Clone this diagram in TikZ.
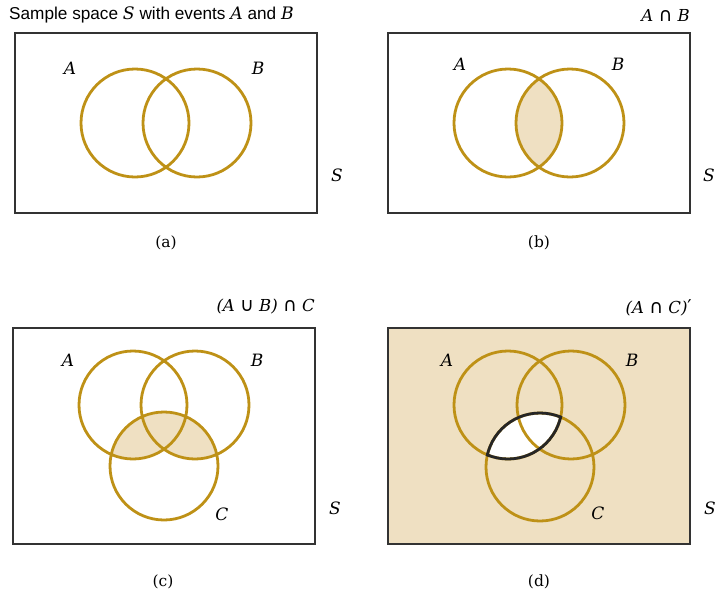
\documentclass[tikz,border=0pt]{standalone}
\usepackage{fontspec}
\setsansfont{Liberation Sans}
\newfontfamily\lblfont{DejaVu Serif}
\newfontfamily\symfont{DejaVu Sans}[Scale=1.15]
\usepackage{tikz}
\usetikzlibrary{positioning}
\definecolor{venngold}{RGB}{190,145,22}
\definecolor{venntan}{RGB}{239,224,194}
\newcommand{\setvar}[1]{{\lblfont\itshape #1}}

\begin{document}
\begin{tikzpicture}[x=1pt, y=-1pt,
  frame/.style={draw=black!80, line width=1.2pt},
  setline/.style={draw=venngold, line width=2.8pt},
  edgeline/.style={draw=black!85, line width=2.8pt},
  setlabel/.style={font=\lblfont\itshape\fontsize{17}{20}\selectfont, inner sep=0pt},
  caption/.style={font=\lblfont\fontsize{15.5}{18}\selectfont, inner sep=0pt},
  title/.style={font=\lblfont\itshape\fontsize{16.5}{19}\selectfont, inner sep=0pt, anchor=east},
]
\useasboundingbox (0,0) rectangle (716,595);

% centres of the circles
\coordinate (aA) at (135,123);
\coordinate (aB) at (197,123);
\coordinate (bA) at (508,123);
\coordinate (bB) at (570,123);
\coordinate (cA) at (133,405);
\coordinate (cB) at (195,405);
\coordinate (cC) at (164,466);
\coordinate (dA) at (508,405);
\coordinate (dB) at (571,405);
\coordinate (dC) at (540,467);

% (a) sample space
\draw[frame] (15,33) rectangle (317,213);
\draw[setline] (aA) circle[radius=54pt] (aB) circle[radius=54pt];
\node[anchor=west, font=\sffamily\fontsize{17.2}{20}\selectfont, inner sep=0pt] (ttla) at (9,15)
  {Sample space \setvar{S} with events \setvar{A} and \setvar{B}};
\node[setlabel] (laA) at (70,68) {A};
\node[setlabel] (laB) at (258,68) {B};
\node[setlabel] (laS) at (337,175) {S};
\node[caption] (capa) at (166,243) {(a)};

% (b) A cap B
\draw[frame] (388,33) rectangle (690,213);
\begin{scope}
  \clip (bA) circle[radius=54pt];
  \fill[venntan] (bB) circle[radius=54pt];
\end{scope}
\draw[setline] (bA) circle[radius=54pt] (bB) circle[radius=54pt];
\node[title] (ttlb) at (690,15) {A {\symfont\upshape ∩} B};
\node[setlabel] (lbA) at (460,64) {A};
\node[setlabel] (lbB) at (618,64) {B};
\node[setlabel] (lbS) at (709,175) {S};
\node[caption] (capb) at (539,243) {(b)};

% (c) (A cup B) cap C
\draw[frame] (13,328) rectangle (315,544);
\begin{scope}
  \clip (cC) circle[radius=54pt];
  \fill[venntan] (cA) circle[radius=54pt] (cB) circle[radius=54pt];
\end{scope}
\draw[setline] (cA) circle[radius=54pt] (cB) circle[radius=54pt] (cC) circle[radius=54pt];
\node[title] (ttlc) at (315,307) {(A {\symfont\upshape ∪} B) {\symfont\upshape ∩} C};
\node[setlabel] (lcA) at (68,360) {A};
\node[setlabel] (lcB) at (257,360) {B};
\node[setlabel] (lcC) at (222,514) {C};
\node[setlabel] (lcS) at (335,508) {S};
\node[caption] (capc) at (163,582) {(c)};

% (d) complement of A cap C
\fill[venntan] (388,328) rectangle (690,544);
\draw[frame] (388,328) rectangle (690,544);
\begin{scope}
  \clip (dA) circle[radius=54pt];
  \fill[white] (dC) circle[radius=54pt];
\end{scope}
\draw[setline] (dA) circle[radius=54pt] (dB) circle[radius=54pt] (dC) circle[radius=54pt];
\begin{scope}
  \clip (dA) circle[radius=55.4pt];
  \draw[edgeline] (dC) circle[radius=54pt];
\end{scope}
\begin{scope}
  \clip (dC) circle[radius=55.4pt];
  \draw[edgeline] (dA) circle[radius=54pt];
\end{scope}
\node[title] (ttld) at (692,308) {(A {\symfont\upshape ∩} C){\symfont\upshape ′}};
\node[setlabel] (ldA) at (447,360) {A};
\node[setlabel] (ldB) at (632,360) {B};
\node[setlabel] (ldC) at (598,513) {C};
\node[setlabel] (ldS) at (710,508) {S};
\node[caption] (capd) at (539,582) {(d)};
\end{tikzpicture}
\end{document}
